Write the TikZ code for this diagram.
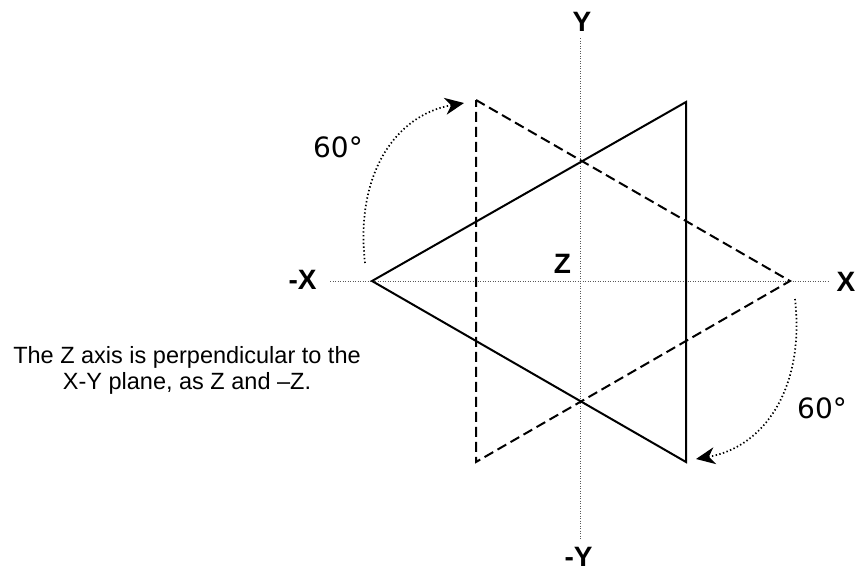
\documentclass[tikz,border=0pt]{standalone}
\usepackage{fontspec}
\setmainfont{Liberation Sans}
\newfontfamily\dejavu{DejaVu Sans}
\usetikzlibrary{arrows.meta}
\begin{document}
\begin{tikzpicture}[x=1pt,y=-1pt,
  axisline/.style={draw=black!65,line width=1pt,dash pattern=on 1pt off 1.5pt},
  solidtri/.style={draw=black,line width=2pt,line join=miter},
  dashtri/.style={draw=black,line width=2pt,dash pattern=on 10pt off 5pt},
  rotarrow/.style={draw=black,line width=1.7pt,dash pattern=on 1.4pt off 2.4pt,-{Stealth[length=19pt,width=17pt,inset=6pt]}},
  axlabel/.style={font=\fontsize{28}{30}\selectfont\bfseries,inner sep=0pt,anchor=center},
  anglabel/.style={font=\dejavu\fontsize{28}{30}\selectfont,inner sep=0pt,anchor=center},
  note/.style={font=\fontsize{23.5}{26}\selectfont,align=center,inner sep=0pt,anchor=base}]
\useasboundingbox (0,0) rectangle (856,571);
% axes
\coordinate (xl) at (330,281);
\coordinate (xr) at (829,281);
\coordinate (yt) at (580,38);
\coordinate (yb) at (580,540);
\draw[axisline] (xl) -- (xr);
\draw[axisline] (yt) -- (yb);
% triangles
\coordinate (s1) at (372,281);
\coordinate (s2) at (686,102);
\coordinate (s3) at (686,462);
\coordinate (d1) at (476,100);
\coordinate (d2) at (790,281);
\coordinate (d3) at (476,462);
\draw[solidtri] (s1) -- (s2) -- (s3) -- cycle;
\draw[dashtri] (d1) -- (d2) -- (d3) -- cycle;
% labels
\node[axlabel] (Y) at (582,22) {Y};
\node[axlabel] (mY) at (578.5,557) {-Y};
\node[axlabel] (X) at (846,282) {X};
\node[axlabel] (mX) at (302.5,280) {-X};
\node[axlabel] (Z) at (562.5,263.5) {Z};
\node[anglabel] (a1) at (338,147) {60°};
\node[anglabel] (a2) at (822,408) {60°};
% rotation arrows
\coordinate (r1s) at (365,263);
\coordinate (r1e) at (464,103);
\coordinate (r2s) at (795,299);
\coordinate (r2e) at (696,459);
\draw[rotarrow] (r1s) .. controls (355,175) and (395,115) .. (r1e);
\draw[rotarrow] (r2s) .. controls (805,387) and (765,447) .. (r2e);
% note
\node[note] (txt) at (187,389) {The Z axis is perpendicular to the\\X-Y plane, as Z and \textendash Z.};
\end{tikzpicture}
\end{document}
